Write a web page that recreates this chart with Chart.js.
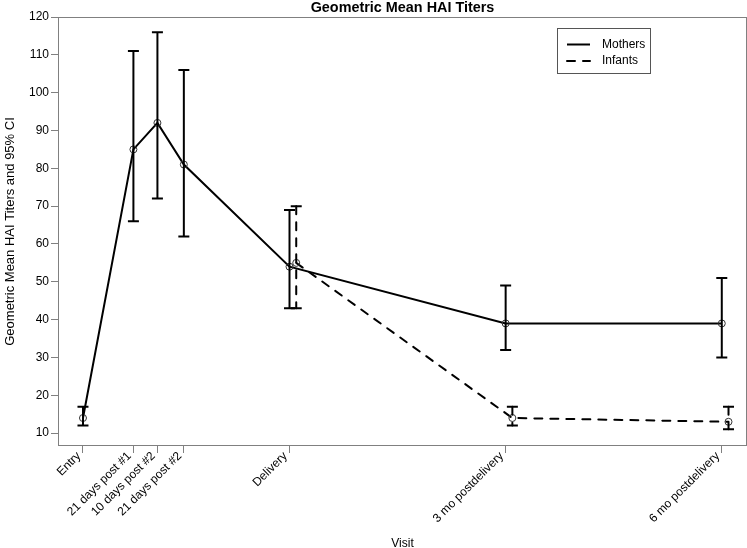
<!DOCTYPE html>
<html><head><meta charset="utf-8">
<script src="https://cdn.jsdelivr.net/npm/chart.js@4.4.0/dist/chart.umd.min.js"></script>
<style>html,body{margin:0;padding:0;background:#fff;overflow:hidden}#wrap{width:747px;height:548px;overflow:hidden}</style>
</head><body><div id="wrap"><canvas id="c" width="752" height="548"></canvas></div>
<script>
const visitLabels = ['Entry','21 days post #1','10 days post #2','21 days post #2','Delivery','3 mo postdelivery','6 mo postdelivery'];
const visitDays = [0, 21, 31, 42, 86, 176, 266];
const motherMean  = [14, 85, 92, 81, 54, 39, 39];
const motherLower = [12, 66, 72, 62, 43, 32, 30];
const motherUpper = [17, 111, 116, 106, 69, 49, 51];
const infantVisitIndex = [4, 5, 6];
const infantOffsetDays = 2.8;
const infantMean  = [55, 14, 13];
const infantLower = [43, 12, 11];
const infantUpper = [70, 17, 17];
const yTicks = [10, 20, 30, 40, 50, 60, 70, 80, 90, 100, 110, 120];

Chart.defaults.font.family = "'Liberation Sans', Arial, sans-serif";

const motherPts = visitDays.map((d, i) => ({x: d, y: motherMean[i], lo: motherLower[i], hi: motherUpper[i]}));
const infantPts = infantVisitIndex.map((vi, i) => ({x: visitDays[vi] + infantOffsetDays, y: infantMean[i], lo: infantLower[i], hi: infantUpper[i]}));

const DASH = [8, 8];

const errorBars = {
  id: 'errorBars',
  afterDatasetsDraw(chart) {
    const ctx = chart.ctx, xs = chart.scales.x, ys = chart.scales.y;
    chart.data.datasets.forEach(ds => {
      ctx.save();
      ctx.strokeStyle = '#000';
      ctx.lineWidth = 2;
      ds.data.forEach(p => {
        const x = xs.getPixelForValue(p.x), y1 = ys.getPixelForValue(p.hi), y2 = ys.getPixelForValue(p.lo);
        ctx.setLineDash(ds.borderDash || []);
        ctx.lineCap = ds.borderDash ? 'round' : 'butt';
        ctx.beginPath(); ctx.moveTo(x, y1); ctx.lineTo(x, y2); ctx.stroke();
        ctx.setLineDash([]);
        ctx.lineCap = 'butt';
        ctx.beginPath();
        ctx.moveTo(x - 5.5, y1); ctx.lineTo(x + 5.5, y1);
        ctx.moveTo(x - 5.5, y2); ctx.lineTo(x + 5.5, y2);
        ctx.stroke();
      });
      ctx.restore();
    });
  }
};

const frameAndLegend = {
  id: 'frameAndLegend',
  afterDraw(chart) {
    const ctx = chart.ctx, a = chart.chartArea;
    ctx.save();
    ctx.strokeStyle = '#808080';
    ctx.lineWidth = 1;
    ctx.strokeRect(Math.round(a.left) + 0.5, Math.round(a.top) + 0.5, Math.round(a.right - a.left) - 1, Math.round(a.bottom - a.top) - 1);
    // legend
    ctx.strokeStyle = '#555';
    ctx.strokeRect(557.5, 28.5, 93, 45);
    ctx.font = "12px 'Liberation Sans', Arial, sans-serif";
    ctx.fillStyle = '#000';
    ctx.textBaseline = 'middle';
    ctx.textAlign = 'left';
    chart.data.datasets.forEach((ds, i) => {
      const y = 44.5 + i * 16.5;
      ctx.strokeStyle = '#000';
      ctx.lineWidth = 2;
      ctx.setLineDash(ds.borderDash || []);
      ctx.lineCap = ds.borderDash ? 'round' : 'butt';
      ctx.beginPath(); ctx.moveTo(567, y); ctx.lineTo(590, y); ctx.stroke();
      ctx.setLineDash([]);
      ctx.fillText(ds.label, 602, y);
    });
    ctx.restore();
  }
};

function zeroPad(s) { s.paddingLeft = 0; s.paddingRight = 0; s.paddingTop = 0; s.paddingBottom = 0; }

new Chart(document.getElementById('c'), {
  type: 'scatter',
  data: {
    datasets: [
      {label: 'Mothers', data: motherPts, showLine: true, borderColor: '#000', borderWidth: 2,
       pointRadius: 3.5, pointBorderWidth: 1, pointBorderColor: '#333', pointBackgroundColor: 'rgba(0,0,0,0)'},
      {label: 'Infants', data: infantPts, showLine: true, borderColor: '#000', borderWidth: 2, borderDash: DASH, borderCapStyle: 'round',
       pointRadius: 3.5, pointBorderWidth: 1, pointBorderColor: '#333', pointBackgroundColor: 'rgba(0,0,0,0)'}
    ]
  },
  options: {
    responsive: false, animation: false, devicePixelRatio: 1,
    layout: {padding: {top: 0, right: 0, bottom: 0, left: 0}},
    plugins: {
      legend: {display: false}, tooltip: {enabled: false},
      title: {display: true, fullSize: false, text: 'Geometric Mean HAI Titers', color: '#000',
              font: {size: 14.4, weight: 'bold', lineHeight: '17px'}, padding: {top: 0, bottom: 0}}
    },
    scales: {
      x: {
        type: 'linear', min: -10.4, max: 276.5,
        afterBuildTicks(a) { a.ticks = visitDays.map(v => ({value: v})); },
        afterFit(s) { s.height = 102; zeroPad(s); },
        ticks: {autoSkip: false, minRotation: 45, maxRotation: 45, color: '#000', font: {size: 12}, padding: -4, labelOffset: -4,
                callback(v) { const i = visitDays.indexOf(v); return i >= 0 ? visitLabels[i] : ''; }},
        grid: {drawOnChartArea: false, drawTicks: true, tickLength: 7, color: '#808080', lineWidth: 1},
        border: {display: false},
        title: {display: true, text: 'Visit', color: '#000', font: {size: 12, lineHeight: '8px'}, padding: 0}
      },
      y: {
        min: 6.6, max: 120,
        afterBuildTicks(a) { a.ticks = yTicks.map(v => ({value: v})); },
        afterFit(s) { s.width = 58; zeroPad(s); },
        ticks: {color: '#000', font: {size: 12}, padding: 2},
        grid: {drawOnChartArea: false, drawTicks: true, tickLength: 7, color: '#808080', lineWidth: 1},
        border: {display: false},
        title: {display: true, text: 'Geometric Mean HAI Titers and 95% CI', color: '#000', font: {size: 13, lineHeight: 1.2}, padding: {top: 3, bottom: 0}}
      }
    }
  },
  plugins: [errorBars, frameAndLegend]
});
</script></body></html>
